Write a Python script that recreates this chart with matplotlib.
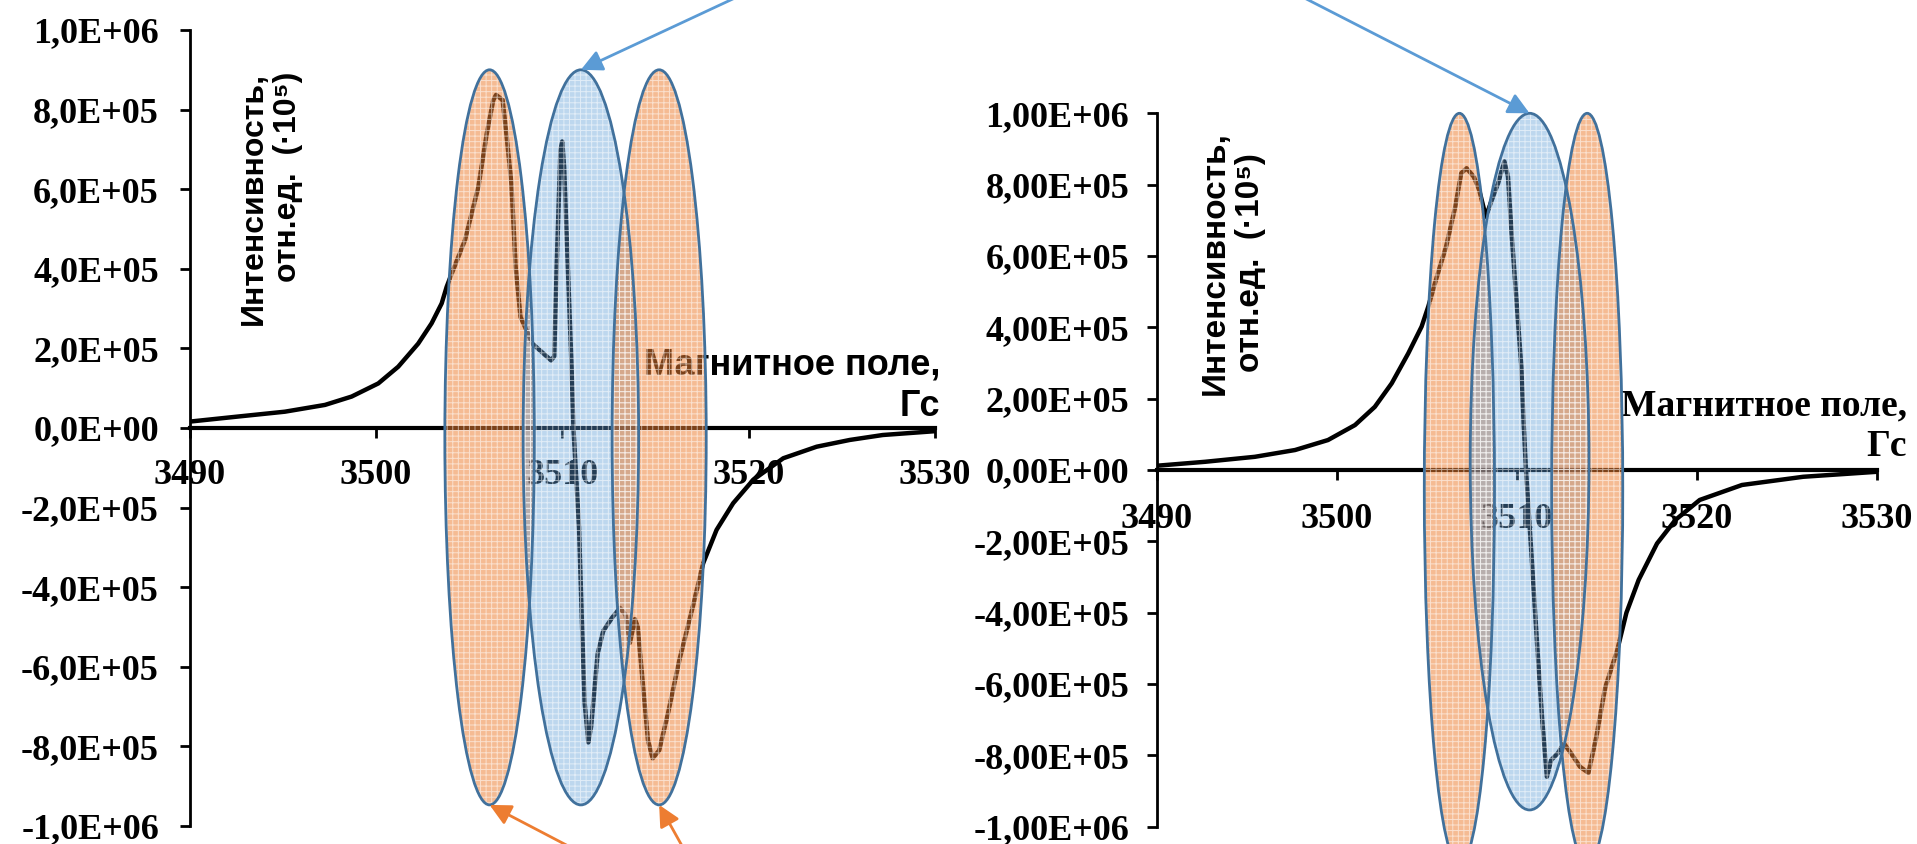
import matplotlib
matplotlib.use('Agg')
import matplotlib.pyplot as plt
from matplotlib.patches import Ellipse
from matplotlib.ticker import FuncFormatter, MultipleLocator

plt.rcParams['font.family'] = ['Liberation Serif', 'DejaVu Serif']
plt.rcParams['font.weight'] = 'bold'
plt.rcParams['hatch.linewidth'] = 0.7

W, H = 1917, 844
SANS = ['Liberation Sans', 'DejaVu Sans']

# --- data (field in Gs, intensity in 1e6 rel. units) ---
left_field = [3490.0, 3492.44, 3495.12, 3497.27, 3498.7, 3500.13, 3501.2, 3502.27, 3502.99, 3503.53,
              3503.8, 3504.07, 3504.78, 3505.5, 3505.95, 3506.3, 3506.45, 3506.8, 3507.0, 3507.27,
              3507.5, 3507.76, 3508.4, 3509.4, 3509.57, 3509.7, 3509.9, 3510.0, 3510.1, 3510.3,
              3510.5, 3510.6, 3510.9, 3511.05, 3511.2, 3511.4, 3511.55, 3511.9, 3512.2, 3512.7,
              3513.1, 3513.4, 3513.63, 3513.9, 3514.05, 3514.3, 3514.6, 3514.85, 3515.2, 3515.66,
              3516.3, 3517.0, 3517.56, 3518.28, 3519.17, 3520.25, 3521.86, 3523.65, 3525.43, 3527.2,
              3530.0]
left_int = [0.016, 0.028, 0.041, 0.058, 0.079, 0.112, 0.154, 0.212, 0.263, 0.313,
            0.355, 0.388, 0.472, 0.606, 0.74, 0.824, 0.837, 0.824, 0.74, 0.615,
            0.405, 0.279, 0.212, 0.17, 0.18, 0.405, 0.698, 0.72, 0.656, 0.405,
            0.153, 0.0, -0.25, -0.48, -0.69, -0.79, -0.75, -0.567, -0.51, -0.475,
            -0.452, -0.47, -0.54, -0.48, -0.50, -0.63, -0.785, -0.83, -0.81, -0.72,
            -0.58, -0.45, -0.34, -0.256, -0.189, -0.130, -0.076, -0.047, -0.030, -0.0176,
            -0.008]

right_field = [3490.0, 3492.67, 3495.44, 3497.67, 3499.5, 3501.0, 3502.1, 3503.04, 3503.96, 3504.7,
               3505.07, 3505.55, 3506.06, 3506.57, 3506.9, 3507.2, 3507.6, 3507.9, 3508.27, 3508.6,
               3508.95, 3509.3, 3509.5, 3509.7, 3509.97, 3510.24, 3510.37, 3510.5, 3510.8, 3511.15,
               3511.4, 3511.66, 3511.9, 3512.27, 3512.6, 3513.0, 3513.5, 3513.97, 3514.4, 3514.9,
               3515.57, 3516.08, 3516.76, 3517.78, 3518.8, 3520.15, 3522.5, 3525.9, 3530.0]
right_int = [0.012, 0.023, 0.037, 0.056, 0.084, 0.126, 0.177, 0.243, 0.327, 0.402,
             0.458, 0.542, 0.626, 0.738, 0.832, 0.846, 0.822, 0.785, 0.71, 0.757,
             0.804, 0.865, 0.822, 0.663, 0.476, 0.289, 0.13, 0.0, -0.234, -0.514,
             -0.70, -0.86, -0.813, -0.794, -0.766, -0.794, -0.832, -0.849, -0.75, -0.61,
             -0.505, -0.40, -0.308, -0.206, -0.14, -0.084, -0.042, -0.019, -0.005]

# highlight ovals: centre field, centre intensity, width (Gs), height (1e6)
left_ovals = [(3506.1, -0.0235, 4.8, 1.847, 'orange'),
              (3511.0, -0.0235, 6.2, 1.847, 'blue'),
              (3515.2, -0.0235, 5.05, 1.847, 'orange')]
right_ovals = [(3506.8, -0.053, 3.9, 2.106, 'orange'),
               (3510.7, 0.0235, 6.6, 1.953, 'blue'),
               (3513.9, -0.053, 3.95, 2.106, 'orange')]

fill = {'orange': ('#ED7D31', 0.52), 'blue': ('#5B9BD5', 0.40)}


def box(l, t, r, b):
    return [l / W, 1 - b / H, (r - l) / W, (b - t) / H]


def style(ax, fmt, fs, ypad, xpad):
    ax.set_xlim(3490, 3530)
    ax.set_ylim(-1e6, 1e6)
    ax.spines['top'].set_visible(False)
    ax.spines['right'].set_visible(False)
    ax.spines['bottom'].set_position(('data', 0))
    ax.spines['left'].set_linewidth(2)
    ax.spines['bottom'].set_linewidth(3)
    ax.xaxis.set_major_locator(MultipleLocator(10))
    ax.yaxis.set_major_locator(MultipleLocator(2e5))
    ax.yaxis.set_major_formatter(FuncFormatter(lambda v, p: fmt.format(v).replace('.', ',')))
    ax.tick_params(axis='both', direction='out', length=7, width=2, labelsize=fs, color='black')
    ax.tick_params(axis='y', pad=ypad)
    ax.tick_params(axis='x', pad=xpad)
    ax.patch.set_visible(False)


def ovals(ax, items):
    for cx, cy, w, h, c in items:
        col, a = fill[c]
        ax.add_patch(Ellipse((cx, cy * 1e6), w, h * 1e6, facecolor=col, alpha=a,
                             edgecolor='none', zorder=3, clip_on=False))
        ax.add_patch(Ellipse((cx, cy * 1e6), w, h * 1e6, fill=False, hatch='+++',
                             edgecolor='white', lw=0, alpha=0.55, zorder=3.1, clip_on=False))
        ax.add_patch(Ellipse((cx, cy * 1e6), w, h * 1e6, fill=False, edgecolor='#41719C',
                             lw=2, zorder=3.2, clip_on=False))


fig = plt.figure(figsize=(W / 100, H / 100), dpi=100)
fig.patch.set_facecolor('white')

ax1 = fig.add_axes(box(189.5, 30, 935, 826))
ax2 = fig.add_axes(box(1157, 113.3, 1877, 826.7))

style(ax1, '{:.1E}', 26, 15, 15)
style(ax2, '{:.2E}', 26, 13, 17)

ax1.plot(left_field, [v * 1e6 for v in left_int], color='black', lw=3.2, zorder=2.7,
         solid_joinstyle='round', solid_capstyle='round')
ax2.plot(right_field, [v * 1e6 for v in right_int], color='black', lw=3.2, zorder=2.7,
         solid_joinstyle='round', solid_capstyle='round')

ovals(ax1, left_ovals)
ovals(ax2, right_ovals)

# axis titles
fig.text(271 / W, 1 - 72 / H, 'Интенсивность,\nотн.ед.  (·10⁵)', rotation=90,
         ha='center', va='top', multialignment='right', fontsize=23,
         fontweight='bold', family=SANS)
fig.text(1233 / W, 1 - 263 / H, 'Интенсивность,\nотн.ед.  (·10⁵)', rotation=90,
         ha='center', va='center', multialignment='center', fontsize=24,
         fontweight='bold', family=SANS)

ax1.text(940 / W, 1 - 385.5 / H, 'Магнитное поле,\nГс', transform=fig.transFigure,
         ha='right', va='center', multialignment='right', fontsize=26,
         fontweight='bold', family=SANS, linespacing=1.25, zorder=2.8)
ax2.text(1907 / W, 1 - 426 / H, 'Магнитное поле,\nГс', transform=fig.transFigure,
         ha='right', va='center', multialignment='right', fontsize=27,
         fontweight='bold', linespacing=1.2, zorder=2.8)

# pointer arrows coming from labels outside the cropped picture
blue_src = (1033, H + 141)
orange_src = (729, H - 930)
arrow_kw = dict(arrowstyle='-|>', lw=2, mutation_scale=32, shrinkA=0, shrinkB=0)
ax1.annotate('', xy=(left_ovals[1][0], (left_ovals[1][1] + left_ovals[1][3] / 2) * 1e6),
             xytext=blue_src, textcoords='figure pixels', annotation_clip=False,
             arrowprops=dict(color='#5B9BD5', **arrow_kw), zorder=5)
ax2.annotate('', xy=(right_ovals[1][0], (right_ovals[1][1] + right_ovals[1][3] / 2) * 1e6),
             xytext=blue_src, textcoords='figure pixels', annotation_clip=False,
             arrowprops=dict(color='#5B9BD5', **arrow_kw), zorder=5)
for cx, cy, w, h, c in (left_ovals[0], left_ovals[2]):
    ax1.annotate('', xy=(cx, (cy - h / 2) * 1e6), xytext=orange_src,
                 textcoords='figure pixels', annotation_clip=False,
                 arrowprops=dict(color='#ED7D31', **arrow_kw), zorder=5)

fig.savefig('out.png', dpi=100, facecolor='white')
